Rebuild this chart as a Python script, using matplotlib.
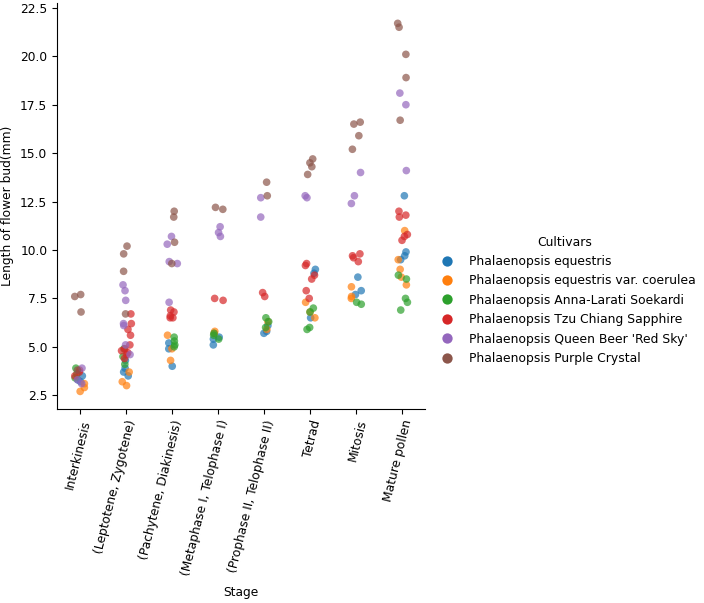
import numpy as np
import pandas as pd
import matplotlib
matplotlib.use("Agg")
import matplotlib.pyplot as plt
import seaborn as sns

stages = ["Interkinesis", "(Leptotene, Zygotene)", "(Pachytene, Diakinesis)",
          "(Metaphase I, Telophase I)", "(Prophase II, Telophase II)",
          "Tetrad", "Mitosis", "Mature pollen"]
cultivars = ["Phalaenopsis equestris", "Phalaenopsis equestris var. coerulea",
             "Phalaenopsis Anna-Larati Soekardi", "Phalaenopsis Tzu Chiang Sapphire",
             "Phalaenopsis Queen Beer 'Red Sky'", "Phalaenopsis Purple Crystal"]

# bud length (mm) per stage, one list per cultivar
equestris = [[3.2, 3.5, 3.3], [3.9, 3.7, 3.5, 4.3], [5.2, 4.9, 4.0],
             [5.5, 5.1, 5.4], [6.1, 5.8, 5.7], [9.0, 8.8, 6.5],
             [8.6, 7.9, 7.7], [12.8, 9.9, 9.7, 9.5]]
coerulea = [[2.7, 2.9, 3.1], [3.2, 3.0, 3.7], [5.6, 4.9, 4.3],
            [5.8, 5.7], [6.3, 5.9], [7.3, 6.8, 6.5],
            [8.1, 7.5, 7.6], [11.0, 9.5, 9.0, 8.6, 8.2]]
anna_larati = [[3.9, 3.6, 3.4], [4.9, 4.5, 4.1], [5.3, 5.1, 5.0, 5.5],
               [5.6, 5.7, 5.4], [6.5, 6.3, 6.0], [7.0, 6.8, 6.0, 5.9],
               [7.2, 7.3], [8.7, 8.5, 7.5, 7.3, 6.9]]
tzu_chiang = [[3.7, 3.5, 3.8], [6.7, 6.2, 5.9, 5.6, 5.1, 4.9, 4.8, 4.7, 4.6, 4.4],
              [6.9, 6.8, 6.6, 6.5, 6.5], [7.5, 7.4], [7.8, 7.6],
              [9.3, 9.2, 8.7, 8.5, 7.9, 7.5], [9.8, 9.7, 9.6, 9.4],
              [12.0, 11.7, 11.8, 10.8, 10.7, 10.5]]
queen_beer = [[3.1, 3.3, 3.9], [8.2, 7.9, 7.4, 6.2, 6.1, 5.1, 4.6],
              [10.7, 10.3, 9.4, 9.3, 7.3], [11.2, 10.9, 10.7], [12.7, 11.7],
              [12.8, 12.7], [14.0, 12.8, 12.4], [18.1, 17.5, 14.1]]
purple_crystal = [[6.8, 7.6, 7.7, 3.8], [10.2, 9.8, 8.9, 6.7], [12.0, 11.7, 10.4, 9.3],
                  [12.2, 12.1], [13.5, 12.8], [14.7, 14.3, 14.5, 13.9],
                  [16.6, 16.5, 15.9, 15.2], [21.7, 21.5, 20.1, 18.9, 16.7]]

series = [equestris, coerulea, anna_larati, tzu_chiang, queen_beer, purple_crystal]

rows = []
for name, vals in zip(cultivars, series):
    for st, lst in zip(stages, vals):
        for v in lst:
            rows.append({"Stage": st, "Length of flower bud(mm)": v, "Cultivars": name})
df = pd.DataFrame(rows)

plt.rcParams["font.size"] = 8.8

np.random.seed(3)
fig, ax = plt.subplots(figsize=(7.04, 6.03), dpi=100)
fig.subplots_adjust(left=0.081, right=0.604, top=0.995, bottom=0.322)
sns.stripplot(data=df, x="Stage", y="Length of flower bud(mm)", hue="Cultivars",
              order=stages, hue_order=cultivars, alpha=0.7, size=5.5, jitter=0.12, ax=ax)
sns.despine(ax=ax)
ax.set_ylim(1.8, 22.75)
ax.set_yticks(np.arange(2.5, 22.6, 2.5))
plt.setp(ax.get_xticklabels(), rotation=76, ha="right", rotation_mode="anchor")
ax.xaxis.labelpad = 6
ax.legend_.remove()
h, l = ax.get_legend_handles_labels()
for hh in h:
    hh.set_alpha(1)
fig.legend(h, l, title="Cultivars", frameon=False, loc="center left",
           bbox_to_anchor=(0.601, 0.502), handletextpad=0.8, markerscale=1.35,
           labelspacing=0.52, fontsize=8.9, title_fontsize=8.9)
fig.savefig("out.png", dpi=100)
